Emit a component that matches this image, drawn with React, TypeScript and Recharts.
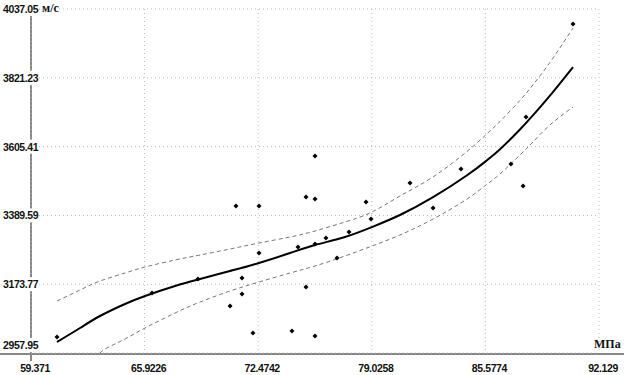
import {
  CartesianGrid,
  ComposedChart,
  Line,
  Scatter,
  XAxis,
  YAxis,
} from 'recharts';

const xTicks = [59.371, 65.9226, 72.4742, 79.0258, 85.5774, 92.129];
const yTicks = [2957.95, 3173.77, 3389.59, 3605.41, 3821.23, 4037.05];
const yUnit = 'м/с';
const xUnit = 'МПа';

// measured points
const pointsX = [
  60.87, 66.35, 69.0, 70.85, 71.19, 71.54, 71.54, 72.17, 72.52, 72.52, 74.42,
  74.77, 75.23, 75.23, 75.75, 75.75, 75.75, 75.75, 76.38, 77.02, 77.71, 78.69,
  78.98, 81.23, 82.56, 84.17, 87.05, 87.75, 87.92, 90.63,
];
const pointsY = [
  3008.1, 3146.2, 3190.1, 3105.4, 3419.1, 3193.2, 3143.0, 3020.7, 3419.1,
  3271.6, 3027.0, 3290.5, 3447.3, 3165.0, 3575.9, 3441.0, 3299.9, 3011.3,
  3318.7, 3256.0, 3337.5, 3431.6, 3378.3, 3491.2, 3412.8, 3535.2, 3550.8,
  3481.8, 3698.3, 3990.0,
];

// regression curve and confidence band
const fitX = [
  60.87, 62.2, 63.35, 64.79, 65.95, 67.68, 69.12, 70.85, 72.52, 74.31, 75.75,
  77.48, 79.04, 80.65, 82.56, 84.52, 85.61, 86.42, 87.57, 88.32, 89.3, 90.63,
];
const fitY = [
  2992.5, 3036.4, 3074.0, 3111.7, 3136.8, 3168.1, 3190.1, 3215.2, 3240.3,
  3271.6, 3296.7, 3321.8, 3353.2, 3390.9, 3446.7, 3515.4, 3559.9, 3597.2,
  3659.1, 3703.6, 3765.4, 3855.1,
];
const upperY = [
  3121.1, 3155.6, 3183.8, 3208.9, 3227.7, 3249.7, 3265.4, 3284.2, 3303.0,
  3321.8, 3340.7, 3368.9, 3400.3, 3450.4, 3510.4, 3590.3, 3642.7, 3684.5,
  3750.3, 3799.3, 3869.5, 3977.4,
];
const lowerX = [
  63.35, 63.75, 64.79, 65.95, 67.68, 69.12, 70.85, 72.52, 74.31, 75.75, 77.48,
  79.04, 80.65, 82.56, 84.52, 85.61, 86.42, 87.57, 88.32, 89.3, 90.63,
];
const lowerY = [
  2958.0, 2973.6, 3001.9, 3036.4, 3083.4, 3117.9, 3152.4, 3180.7, 3208.9,
  3230.9, 3262.2, 3293.6, 3328.1, 3378.3, 3441.0, 3485.0, 3519.5, 3579.1,
  3619.8, 3673.2, 3729.6,
];

const points = pointsX.map((x, i) => ({x, y: pointsY[i]}));
const fit = fitX.map((x, i) => ({x, y: fitY[i]}));
const upper = fitX.map((x, i) => ({x, y: upperY[i]}));
const lower = lowerX.map((x, i) => ({x, y: lowerY[i]}));

const tickFont = {
  fontFamily: '"Liberation Sans", Arial, sans-serif',
  fontWeight: 700,
  fontSize: 10.5,
  letterSpacing: -0.4,
  fill: '#111',
};
const unitFont = {
  fontFamily: '"Liberation Serif", "Times New Roman", serif',
  fontWeight: 700,
  fontSize: 12,
  fill: '#111',
};

function YTick({y, payload, index}: any) {
  const shift = index === 0 ? -8 : 0;
  return (
    <g>
      <rect x={2} y={y + shift - 7} width={36} height={14} fill="#fff" />
      <text x={3} y={y + shift + 4} textAnchor="start" {...tickFont}>
        {String(payload.value)}
      </text>
      {index === yTicks.length - 1 && (
        <text x={42} y={y + 3} textAnchor="start" {...unitFont}>
          {yUnit}
        </text>
      )}
    </g>
  );
}

function XTick({x, payload, index}: any) {
  return (
    <g>
      <rect x={x + 4 - 19} y={361} width={38} height={13} fill="#fff" />
      <text x={x + 4} y={372} textAnchor="middle" {...tickFont}>
        {String(payload.value)}
      </text>
      {index === xTicks.length - 1 && (
        <text x={594} y={348} textAnchor="start" {...unitFont}>
          {xUnit}
        </text>
      )}
    </g>
  );
}

function Dot({cx, cy}: any) {
  return (
    <path
      d={`M${cx},${cy - 2.5}L${cx + 2.5},${cy}L${cx},${cy + 2.5}L${cx - 2.5},${cy}Z`}
      fill="#000"
    />
  );
}

export default function App() {
  return (
    <div
      style={{
        position: 'absolute',
        left: 0,
        top: 0,
        width: 624,
        height: 375,
        background: '#fff',
        overflow: 'hidden',
      }}
    >
      {/* axis lines, drawn past the plot area like the original */}
      <div
        style={{
          position: 'absolute',
          left: 0,
          top: 353,
          width: 624,
          height: 2,
          background: '#888',
        }}
      />
      <div
        style={{
          position: 'absolute',
          left: 30,
          top: 11,
          width: 2,
          height: 352,
          background: '#888',
        }}
      />
      <div style={{position: 'absolute', left: 0, top: 0}}>
        <ComposedChart
          width={624}
          height={375}
          margin={{top: 9, right: 25, bottom: 0, left: 0}}
        >
          <CartesianGrid stroke="#b8b8b8" strokeDasharray="1 3" />
          <XAxis
            dataKey="x"
            type="number"
            domain={[59.371, 92.129]}
            ticks={xTicks}
            height={22}
            axisLine={false}
            tickLine={false}
            interval={0}
            tick={<XTick />}
            allowDataOverflow
          />
          <YAxis
            dataKey="y"
            type="number"
            domain={[2957.95, 4037.05]}
            ticks={yTicks}
            width={31}
            axisLine={false}
            tickLine={false}
            interval={0}
            tick={<YTick />}
            allowDataOverflow
          />
          <Line
            data={upper}
            dataKey="y"
            type="natural"
            stroke="#777"
            strokeWidth={1}
            strokeDasharray="4 3"
            dot={false}
            isAnimationActive={false}
          />
          <Line
            data={lower}
            dataKey="y"
            type="natural"
            stroke="#777"
            strokeWidth={1}
            strokeDasharray="4 3"
            dot={false}
            isAnimationActive={false}
          />
          <Line
            data={fit}
            dataKey="y"
            type="natural"
            stroke="#000"
            strokeWidth={2}
            dot={false}
            isAnimationActive={false}
          />
          <Scatter
            data={points}
            dataKey="y"
            shape={<Dot />}
            isAnimationActive={false}
          />
        </ComposedChart>
      </div>
    </div>
  );
}
